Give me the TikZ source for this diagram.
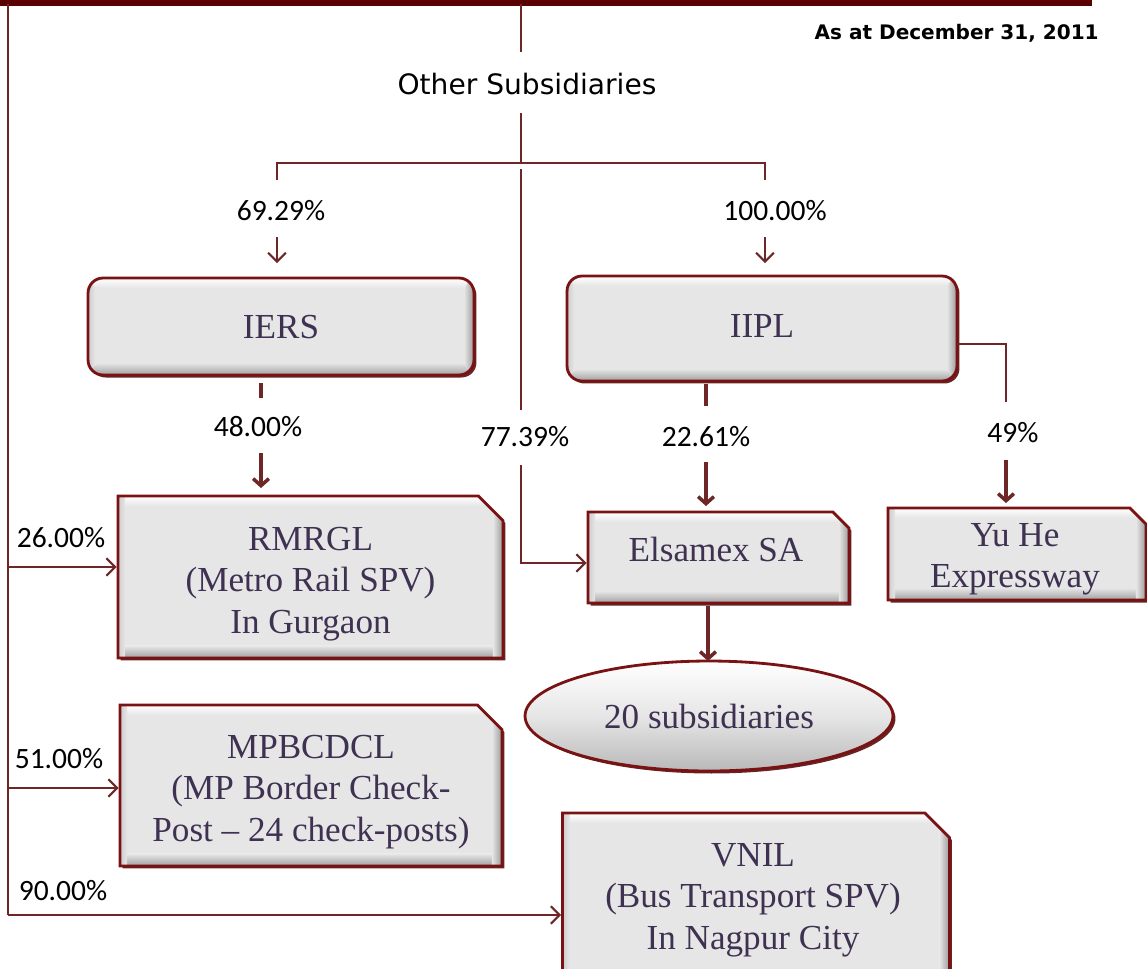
\documentclass[tikz,border=0pt]{standalone}
\usepackage{fontspec}
\setmainfont{Liberation Serif}
\newfontfamily\lblfont{Carlito}
\newfontfamily\tahfont{DejaVu Sans}
\usetikzlibrary{shapes.geometric,shapes.misc,arrows.meta,shadows}
\definecolor{bord}{RGB}{122,18,20}
\definecolor{conn}{RGB}{110,38,38}
\definecolor{boxtxt}{RGB}{63,49,81}
\definecolor{boxfill}{RGB}{230,230,230}
\definecolor{barc}{RGB}{90,0,0}
\tikzset{
  bevel/.style={path picture={
    \coordinate (ppnw) at (path picture bounding box.north west);
    \coordinate (ppse) at (path picture bounding box.south east);
    \shade[top color=white, bottom color=boxfill] (ppnw) rectangle ([yshift=-0.2cm]ppnw -| ppse);
    \shade[top color=boxfill, bottom color=gray!75] ([yshift=0.24cm]ppse -| ppnw) rectangle (ppse);
    \shade[left color=boxfill, right color=gray!80] ([xshift=-0.2cm]ppse |- ppnw) rectangle (ppse);
    \shade[left color=gray!40, right color=boxfill] (ppnw) rectangle ([xshift=0.14cm]ppnw |- ppse);
  }},
  boxtext/.style={text=boxtxt, font=\fontsize{20}{23.5}\selectfont, align=center, inner sep=0pt},
  shad/.style={drop shadow={shadow xshift=0.05cm, shadow yshift=-0.05cm, fill=bord!70!black, opacity=0.9}},
  rbox/.style={rectangle, rounded corners=0.3cm, draw=bord, line width=1.6pt, fill=boxfill, bevel, shad, inner sep=0pt},
  cbox/.style={chamfered rectangle, chamfered rectangle corners=north east, chamfered rectangle xsep=0.26cm, chamfered rectangle ysep=0.26cm, draw=bord, line width=1.6pt, fill=boxfill, bevel, shad, inner sep=0pt, font=\fontsize{20}{23.5}\selectfont},
  scbox/.style={cbox, chamfered rectangle xsep=0.16cm, chamfered rectangle ysep=0.16cm},
  ebox/.style={ellipse, draw=bord, line width=1.6pt, top color=white, bottom color=gray!55, middle color=boxfill, shad, boxtext},
  pct/.style={font=\lblfont\fontsize{16.8}{19}\selectfont, text=black, inner sep=1pt},
  cline/.style={draw=conn, line width=1.2pt},
  oarr/.style={cline, -{Straight Barb[length=5pt,width=10pt]}},
  tarr/.style={draw=conn, line width=2pt, -{Straight Barb[length=4pt,width=9pt]}},
}
\begin{document}
\begin{tikzpicture}[x=0.02cm,y=-0.02cm]
\useasboundingbox (0,0) rectangle (1147,968);

% boxes
\node[rbox, minimum width=7.72cm, minimum height=1.94cm] (IERS) at (281,326.5) {};
\node[rbox, minimum width=7.8cm, minimum height=2.1cm] (IIPL) at (762,328.5) {};
\node[cbox, minimum width=7.7cm, minimum height=3.24cm] (RMRGL) at (310.5,577) {\phantom{MMMMMM}};
\node[scbox, minimum width=5.22cm, minimum height=1.82cm] (ELS) at (718.5,557.5) {\phantom{MMMM}};
\node[scbox, minimum width=5.16cm, minimum height=1.84cm] (YUHE) at (1017,554) {\phantom{MMMM}};
\node[ebox, minimum width=7.36cm, minimum height=2.2cm] (SUB) at (709,716) {20 subsidiaries};
\node[cbox, minimum width=7.64cm, minimum height=3.22cm] (MPB) at (311,785.5) {\phantom{MMMMMM}};
\node[cbox, minimum width=7.74cm, minimum height=3.4cm] (VNIL) at (756,898) {\phantom{MMMMMM}};

% box texts
\node[boxtext] (IERSt) at (281,327) {IERS};
\node[boxtext] (IIPLt) at (762,326) {IIPL};
\node[boxtext] (RMRGLt) at (310.5,584) {RMRGL\\(Metro Rail SPV)\\In Gurgaon};
\node[boxtext] (ELSt) at (716,549) {Elsamex SA};
\node[boxtext] (YUHEt) at (1015,559) {Yu He\\Expressway};
\node[boxtext] (MPBt) at (311,792) {MPBCDCL\\(MP Border Check-\\Post -- 24 check-posts)};
\node[boxtext] (VNILt) at (753,900) {VNIL\\(Bus Transport SPV)\\In Nagpur City};

% texts
\node[font=\tahfont\fontsize{16}{19}\selectfont, inner sep=0pt] (OTH) at (527,84) {Other Subsidiaries};
\node[font=\tahfont\bfseries\fontsize{11.4}{13}\selectfont, anchor=east, inner sep=0pt] (DATE) at (1099,33) {As at December 31, 2011};
\node[pct] (P6929) at (281,211) {69.29\%};
\node[pct] (P100) at (775,211) {100.00\%};
\node[pct] (P48) at (258,427) {48.00\%};
\node[pct] (P7739) at (525,437) {77.39\%};
\node[pct] (P2261) at (706,437) {22.61\%};
\node[pct] (P49) at (1013,433) {49\%};
\node[pct] (P26) at (61,538) {26.00\%};
\node[pct] (P51) at (59,759) {51.00\%};
\node[pct] (P90) at (63,891) {90.00\%};

% coordinates
\coordinate (barL) at (0,2);
\coordinate (barR) at (1092,2);
\coordinate (L0) at (8,4);
\coordinate (L1) at (8,567);
\coordinate (L2) at (8,788);
\coordinate (L3) at (8,915);
\coordinate (C0) at (521,4);
\coordinate (C1) at (521,52);
\coordinate (C2) at (521,113);
\coordinate (C3) at (521,163);
\coordinate (C4) at (521,169);
\coordinate (C5) at (521,410);
\coordinate (C6) at (521,465);
\coordinate (C7) at (521,563);
\coordinate (BL) at (277,163);
\coordinate (BR) at (765,163);
\coordinate (BLd) at (277,180);
\coordinate (BRd) at (765,180);
\coordinate (AL0) at (277,237);
\coordinate (AL1) at (277,263);
\coordinate (AR0) at (765,237);
\coordinate (AR1) at (765,263);
\coordinate (I0) at (261,383);
\coordinate (I1) at (261,398);
\coordinate (I2) at (261,453);
\coordinate (I3) at (261,488);
\coordinate (J0) at (706,384);
\coordinate (J1) at (706,406);
\coordinate (J2) at (706,462);
\coordinate (J3) at (706,506);
\coordinate (K0) at (957,344);
\coordinate (K1) at (1006,344);
\coordinate (K2) at (1006,402);
\coordinate (K3) at (1006,460);
\coordinate (K4) at (1006,503);
\coordinate (E0) at (708,606);
\coordinate (E1) at (708,661);

% connectors
\draw[draw=barc, line width=4.5pt] (barL) -- (barR);
\draw[cline] (L0) -- (L3);
\draw[oarr] (L1) -- (L1 -| RMRGL.west);
\draw[oarr] (L2) -- (L2 -| MPB.west);
\draw[oarr] (L3) -- (L3 -| VNIL.west);
\draw[cline] (C0) -- (C1);
\draw[cline] (C2) -- (C3);
\draw[cline] (BLd) -- (BL) -- (BR) -- (BRd);
\draw[cline] (C4) -- (C5);
\draw[oarr] (C6) -- (C7) -- (C7 -| ELS.west);
\draw[oarr] (AL0) -- (AL1);
\draw[oarr] (AR0) -- (AR1);
\draw[cline, line width=2pt] (I0) -- (I1);
\draw[tarr] (I2) -- (I3);
\draw[cline, line width=2pt] (J0) -- (J1);
\draw[tarr] (J2) -- (J3);
\draw[cline] (K0) -- (K1) -- (K2);
\draw[tarr] (K3) -- (K4);
\draw[tarr] (E0) -- (E1);
\end{tikzpicture}
\end{document}
